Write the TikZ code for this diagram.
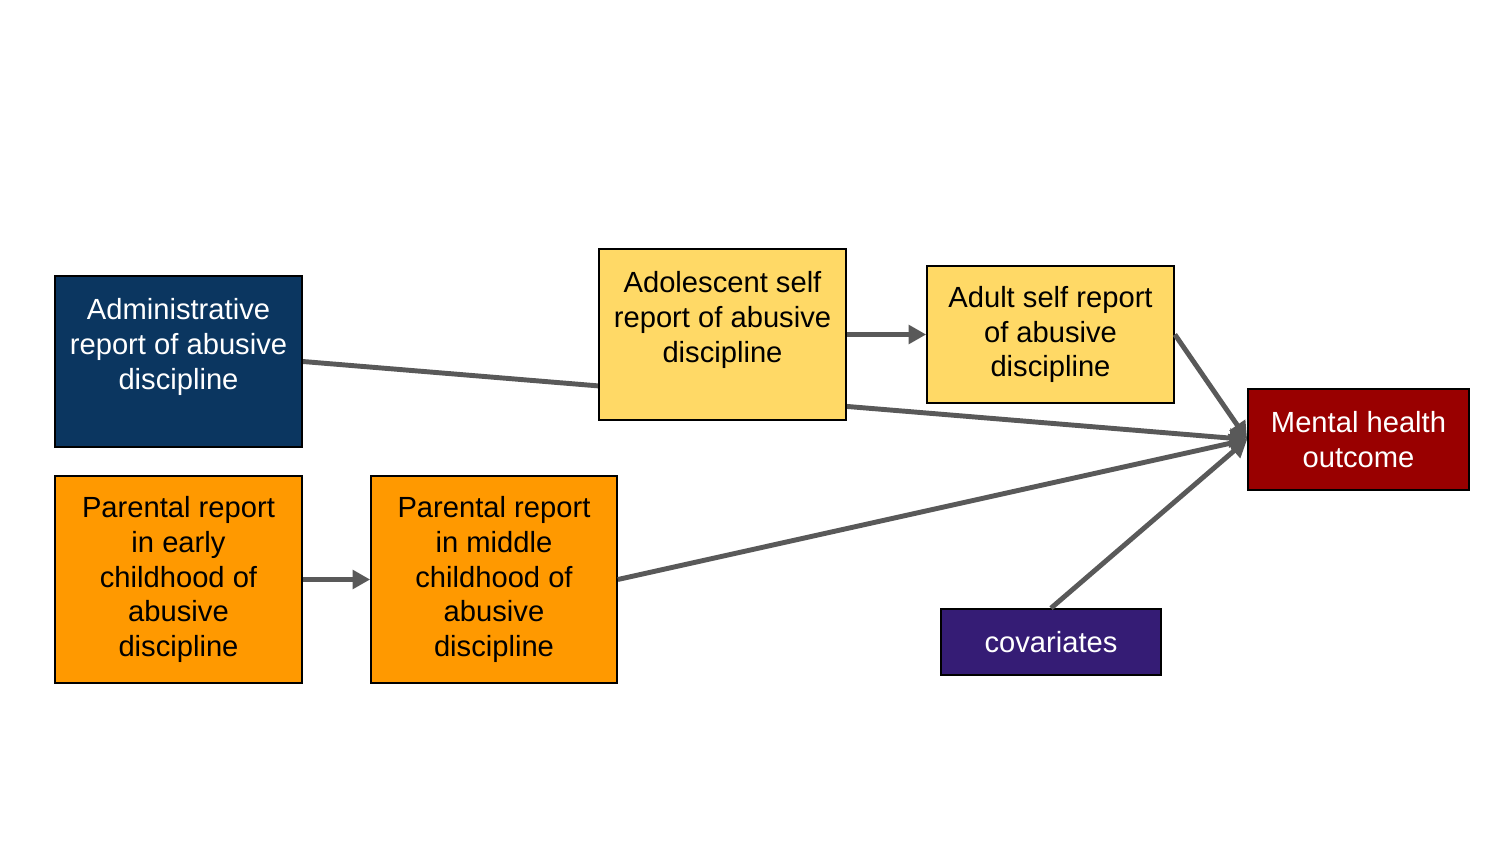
\documentclass[tikz,border=0pt]{standalone}
\usepackage{fontspec}
\setmainfont{Liberation Sans}
\usetikzlibrary{arrows.meta,backgrounds}
\definecolor{navy}{HTML}{0B3660}
\definecolor{ylw}{HTML}{FFD966}
\definecolor{org}{HTML}{FF9900}
\definecolor{darkred}{HTML}{990000}
\definecolor{purp}{HTML}{351C75}
\definecolor{conn}{HTML}{595959}
\tikzset{
  box/.style={draw=black, line width=1pt, align=center, inner sep=0pt,
    font=\fontsize{16.6pt}{19.8pt}\selectfont},
  link/.style={draw=conn, line width=2.8pt},
  arr/.style={link, -{Triangle[length=10pt,width=10.5pt]}}
}
\begin{document}
\begin{tikzpicture}[x=0.02cm,y=-0.02cm]
\useasboundingbox (0,0) rectangle (1500,844);
\node[box, fill=navy, text=white, minimum width=4.94cm, minimum height=3.42cm] (admin) at (178.5,361.5) {Administrative\\report of abusive\\discipline\\[0pt]\mbox{}};
\node[box, fill=ylw, minimum width=4.94cm, minimum height=3.42cm] (adol) at (722.5,334.5) {Adolescent self\\report of abusive\\discipline\\[0pt]\mbox{}};
\node[box, fill=ylw, minimum width=4.94cm, minimum height=2.74cm] (adult) at (1050.5,334.5) {\raisebox{-2pt}{Adult self report}\\\raisebox{-2pt}{of abusive}\\\raisebox{-2pt}{discipline}};
\node[box, fill=darkred, text=white, minimum width=4.42cm, minimum height=2.02cm] (mh) at (1358.5,439.5) {Mental health\\outcome};
\node[box, fill=org, minimum width=4.94cm, minimum height=4.14cm] (early) at (178.5,579.5) {Parental report\\in early\\childhood of\\abusive\\discipline};
\node[box, fill=org, minimum width=4.92cm, minimum height=4.14cm] (middle) at (494,579.5) {Parental report\\in middle\\childhood of\\abusive\\discipline};
\node[box, fill=purp, text=white, minimum width=4.4cm, minimum height=1.32cm] (cov) at (1051,642) {covariates};
\begin{pgfonlayer}{background}
\draw[arr] (admin.east) -- (mh.west);
\end{pgfonlayer}
\draw[arr] (adol.east) -- (adult.west);
\draw[arr] (adult.east) -- (mh.west);
\draw[arr] (early.east) -- (middle.west);
\draw[arr] (middle.east) -- (mh.west);
\draw[arr] (cov.north) -- (mh.west);
\end{tikzpicture}
\end{document}
